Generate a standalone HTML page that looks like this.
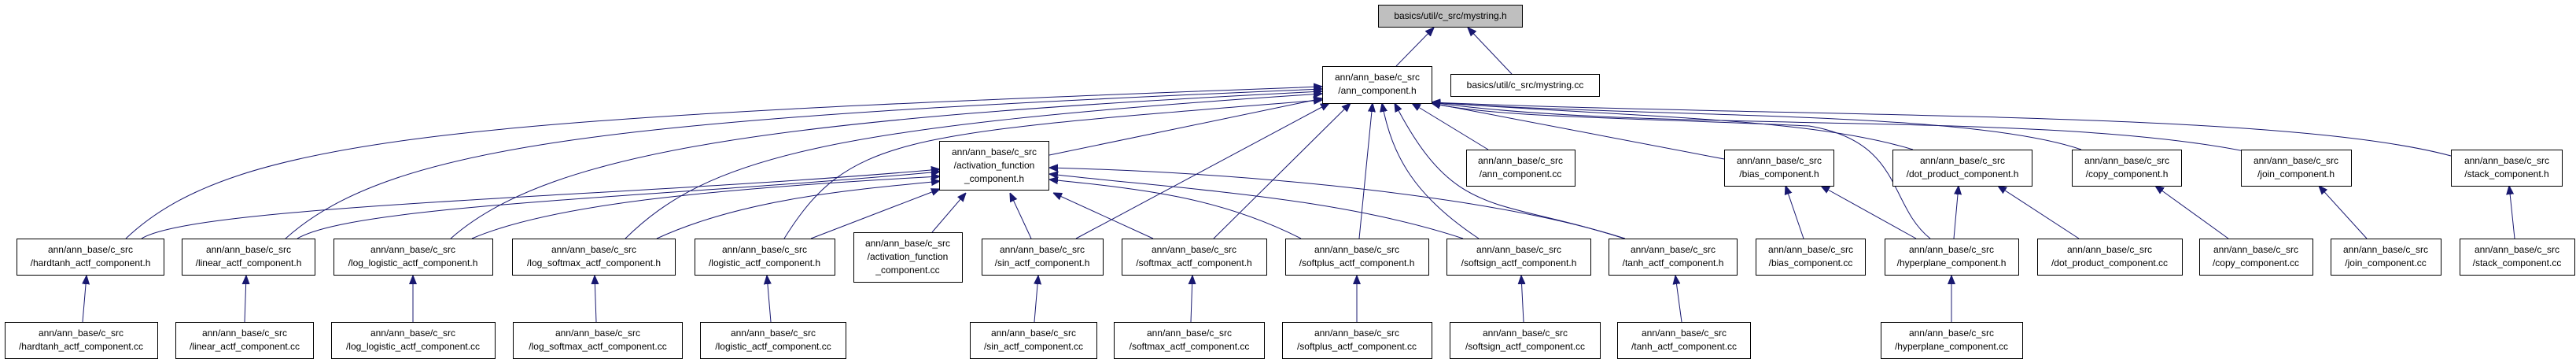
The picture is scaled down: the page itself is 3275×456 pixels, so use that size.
<!DOCTYPE html>
<html><head><meta charset="utf-8"><style>
html,body{margin:0;padding:0;background:#fff;}
svg{display:block;}
text{font-family:"Liberation Sans",sans-serif;font-size:12px;fill:#000;text-anchor:middle;}
rect{fill:#fff;stroke:#000;stroke-width:1;}
path{fill:none;stroke:#191970;stroke-width:1;}
</style></head><body>
<svg width="3275" height="456" viewBox="0 0 3275 456" xmlns="http://www.w3.org/2000/svg">
<defs><marker id="a" viewBox="0 0 10 10" refX="10" refY="5" markerWidth="11" markerHeight="11" markerUnits="userSpaceOnUse" orient="auto"><path d="M0,1 L10,5 L0,9 z" style="fill:#191970;stroke:#191970"/></marker></defs>
<g marker-end="url(#a)">
<path d="M1775,84 L1823,35"/>
<path d="M1922,94 L1866,35"/>
<path d="M1334,197 L1681,125"/>
<path d="M160,303 C300,170 600,150 1681,110"/>
<path d="M363,303 C500,180 800,150 1681,113"/>
<path d="M573,303 C700,190 1000,150 1681,116"/>
<path d="M795,303 C900,200 1050,160 1681,119"/>
<path d="M997,303 C1080,170 1150,170 1681,127"/>
<path d="M1368,303 L1690,131"/>
<path d="M1543,303 L1717,131"/>
<path d="M1728,303 L1745,131"/>
<path d="M1880,303 C1800,250 1770,200 1757,131"/>
<path d="M2065,303 C1900,250 1850,280 1773,131"/>
<path d="M1892,190 L1795,131"/>
<path d="M2192,202 L1820,131"/>
<path d="M2432,190 C2300,150 2100,150 1820,130"/>
<path d="M2646,190 C2500,140 2100,150 1820,130"/>
<path d="M2858,193 C2600,140 2100,170 1820,130"/>
<path d="M3116,198 C2900,140 2300,150 1820,130"/>
<path d="M2454,303 C2400,260 2420,180 2300,160 C2100,150 1900,150 1820,131"/>
<path d="M180,303 C250,260 800,250 1195,215"/>
<path d="M378,303 C450,260 850,250 1195,218"/>
<path d="M600,303 C700,260 900,240 1195,224"/>
<path d="M835,303 C950,250 1100,240 1195,230"/>
<path d="M1031,303 L1195,240"/>
<path d="M1185,295 L1228,245"/>
<path d="M1311,303 L1284,245"/>
<path d="M1466,303 L1339,245"/>
<path d="M1654,303 C1550,250 1450,240 1334,228"/>
<path d="M1860,303 C1700,250 1500,240 1334,221"/>
<path d="M2066,303 C1900,250 1600,220 1334,213"/>
<path d="M105,409 L110,350"/>
<path d="M311,409 L313,350"/>
<path d="M525,409 L525,350"/>
<path d="M758,409 L756,350"/>
<path d="M980,409 L975,350"/>
<path d="M1315,409 L1320,350"/>
<path d="M1514,409 L1516,350"/>
<path d="M1725,409 L1725,350"/>
<path d="M1937,409 L1934,350"/>
<path d="M2138,409 L2130,350"/>
<path d="M2481,409 L2481,350"/>
<path d="M2293,303 L2270,236"/>
<path d="M2436,303 L2315,236"/>
<path d="M2484,303 L2490,236"/>
<path d="M2643,303 L2540,236"/>
<path d="M2833,303 L2740,236"/>
<path d="M3009,303 L2948,236"/>
<path d="M3197,303 L3190,236"/>
</g>
<rect x="1752.5" y="6.5" width="183" height="28" style="fill:#bfbfbf"/><text x="1844" y="24">basics/util/c_src/mystring.h</text>
<rect x="1681.5" y="84.5" width="139" height="47"/><text x="1751" y="102">ann/ann_base/c_src</text><text x="1751" y="119">/ann_component.h</text>
<rect x="1844.5" y="94.5" width="189" height="28"/><text x="1939" y="112">basics/util/c_src/mystring.cc</text>
<rect x="1194.5" y="179.5" width="139" height="62"/><text x="1264" y="197">ann/ann_base/c_src</text><text x="1264" y="214">/activation_function</text><text x="1264" y="231">_component.h</text>
<rect x="1864.5" y="190.5" width="138" height="46"/><text x="1933" y="208">ann/ann_base/c_src</text><text x="1933" y="225">/ann_component.cc</text>
<rect x="2192.5" y="190.5" width="139" height="46"/><text x="2262" y="208">ann/ann_base/c_src</text><text x="2262" y="225">/bias_component.h</text>
<rect x="2406.5" y="190.5" width="177" height="46"/><text x="2495" y="208">ann/ann_base/c_src</text><text x="2495" y="225">/dot_product_component.h</text>
<rect x="2634.5" y="190.5" width="139" height="46"/><text x="2704" y="208">ann/ann_base/c_src</text><text x="2704" y="225">/copy_component.h</text>
<rect x="2849.5" y="190.5" width="140" height="46"/><text x="2919" y="208">ann/ann_base/c_src</text><text x="2919" y="225">/join_component.h</text>
<rect x="3116.5" y="190.5" width="141" height="46"/><text x="3187" y="208">ann/ann_base/c_src</text><text x="3187" y="225">/stack_component.h</text>
<rect x="21.5" y="303.5" width="187" height="46"/><text x="115" y="321">ann/ann_base/c_src</text><text x="115" y="338">/hardtanh_actf_component.h</text>
<rect x="231.5" y="303.5" width="169" height="46"/><text x="316" y="321">ann/ann_base/c_src</text><text x="316" y="338">/linear_actf_component.h</text>
<rect x="424.5" y="303.5" width="202" height="46"/><text x="525" y="321">ann/ann_base/c_src</text><text x="525" y="338">/log_logistic_actf_component.h</text>
<rect x="651.5" y="303.5" width="207" height="46"/><text x="755" y="321">ann/ann_base/c_src</text><text x="755" y="338">/log_softmax_actf_component.h</text>
<rect x="883.5" y="303.5" width="178" height="46"/><text x="972" y="321">ann/ann_base/c_src</text><text x="972" y="338">/logistic_actf_component.h</text>
<rect x="1085.5" y="295.5" width="138" height="63"/><text x="1154" y="313">ann/ann_base/c_src</text><text x="1154" y="330">/activation_function</text><text x="1154" y="347">_component.cc</text>
<rect x="1248.5" y="303.5" width="154" height="46"/><text x="1325" y="321">ann/ann_base/c_src</text><text x="1325" y="338">/sin_actf_component.h</text>
<rect x="1426.5" y="303.5" width="184" height="46"/><text x="1518" y="321">ann/ann_base/c_src</text><text x="1518" y="338">/softmax_actf_component.h</text>
<rect x="1634.5" y="303.5" width="182" height="46"/><text x="1725" y="321">ann/ann_base/c_src</text><text x="1725" y="338">/softplus_actf_component.h</text>
<rect x="1839.5" y="303.5" width="183" height="46"/><text x="1931" y="321">ann/ann_base/c_src</text><text x="1931" y="338">/softsign_actf_component.h</text>
<rect x="2045.5" y="303.5" width="163" height="46"/><text x="2127" y="321">ann/ann_base/c_src</text><text x="2127" y="338">/tanh_actf_component.h</text>
<rect x="2232.5" y="303.5" width="139" height="46"/><text x="2302" y="321">ann/ann_base/c_src</text><text x="2302" y="338">/bias_component.cc</text>
<rect x="2396.5" y="303.5" width="170" height="46"/><text x="2481" y="321">ann/ann_base/c_src</text><text x="2481" y="338">/hyperplane_component.h</text>
<rect x="2590.5" y="303.5" width="184" height="46"/><text x="2682" y="321">ann/ann_base/c_src</text><text x="2682" y="338">/dot_product_component.cc</text>
<rect x="2796.5" y="303.5" width="144" height="46"/><text x="2868" y="321">ann/ann_base/c_src</text><text x="2868" y="338">/copy_component.cc</text>
<rect x="2963.5" y="303.5" width="140" height="46"/><text x="3033" y="321">ann/ann_base/c_src</text><text x="3033" y="338">/join_component.cc</text>
<rect x="3127.5" y="303.5" width="146" height="46"/><text x="3200" y="321">ann/ann_base/c_src</text><text x="3200" y="338">/stack_component.cc</text>
<rect x="6.5" y="409.5" width="194" height="46"/><text x="103" y="427">ann/ann_base/c_src</text><text x="103" y="444">/hardtanh_actf_component.cc</text>
<rect x="223.5" y="409.5" width="175" height="46"/><text x="311" y="427">ann/ann_base/c_src</text><text x="311" y="444">/linear_actf_component.cc</text>
<rect x="421.5" y="409.5" width="208" height="46"/><text x="525" y="427">ann/ann_base/c_src</text><text x="525" y="444">/log_logistic_actf_component.cc</text>
<rect x="652.5" y="409.5" width="215" height="46"/><text x="760" y="427">ann/ann_base/c_src</text><text x="760" y="444">/log_softmax_actf_component.cc</text>
<rect x="890.5" y="409.5" width="185" height="46"/><text x="983" y="427">ann/ann_base/c_src</text><text x="983" y="444">/logistic_actf_component.cc</text>
<rect x="1233.5" y="409.5" width="161" height="46"/><text x="1314" y="427">ann/ann_base/c_src</text><text x="1314" y="444">/sin_actf_component.cc</text>
<rect x="1416.5" y="409.5" width="191" height="46"/><text x="1512" y="427">ann/ann_base/c_src</text><text x="1512" y="444">/softmax_actf_component.cc</text>
<rect x="1630.5" y="409.5" width="190" height="46"/><text x="1725" y="427">ann/ann_base/c_src</text><text x="1725" y="444">/softplus_actf_component.cc</text>
<rect x="1843.5" y="409.5" width="191" height="46"/><text x="1939" y="427">ann/ann_base/c_src</text><text x="1939" y="444">/softsign_actf_component.cc</text>
<rect x="2056.5" y="409.5" width="169" height="46"/><text x="2141" y="427">ann/ann_base/c_src</text><text x="2141" y="444">/tanh_actf_component.cc</text>
<rect x="2391.5" y="409.5" width="180" height="46"/><text x="2481" y="427">ann/ann_base/c_src</text><text x="2481" y="444">/hyperplane_component.cc</text>
</svg>
</body></html>
